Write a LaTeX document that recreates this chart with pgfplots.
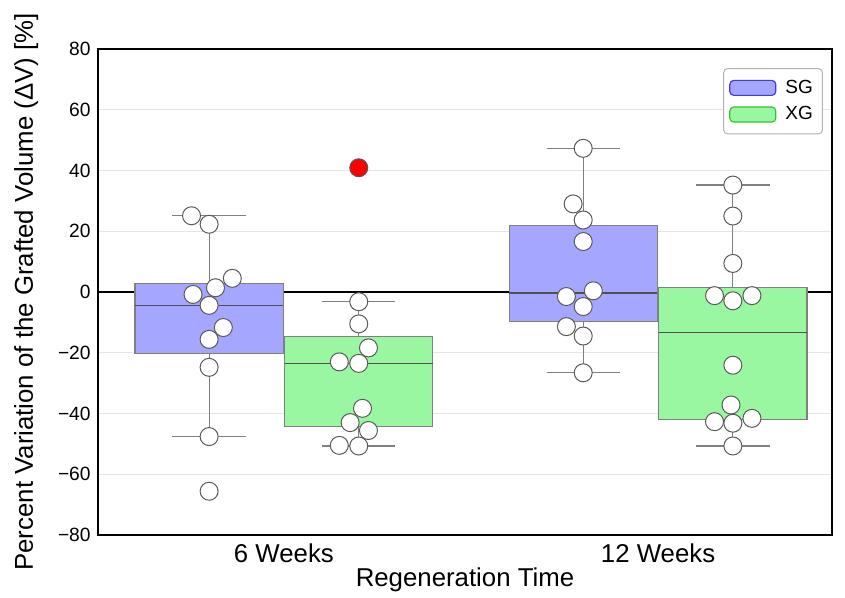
\documentclass[border=0pt]{standalone}
\usepackage{pgfplots}
\pgfplotsset{compat=1.18}
\usepackage{fontspec}
\setmainfont{Liberation Sans}
\definecolor{sgfill}{HTML}{A5A6FF}
\definecolor{xgfill}{HTML}{98F7A0}
\definecolor{sgedge}{HTML}{3C3CE6}
\definecolor{xgedge}{HTML}{33C433}
\definecolor{boxgray}{HTML}{808080}
\definecolor{medgray}{HTML}{505050}
\definecolor{ptedge}{HTML}{5A5A5A}
\begin{document}
\begin{tikzpicture}
\path[use as bounding box] (0pt,0pt) rectangle (422.5pt,299pt);
\begin{axis}[
  at={(49pt,31.5pt)}, anchor=south west, scale only axis,
  width=367pt, height=243pt,
  xmin=-0.497, xmax=1.465, ymin=-80, ymax=80,
  xtick={0,1}, xticklabels={6 Weeks,12 Weeks},
  ytick={-80,-60,-40,-20,0,20,40,60,80},
  yticklabels={−80,−60,−40,−20,0,20,40,60,80},
  tick style={draw=none},
  unbounded coords=jump,
  ymajorgrids, grid style={draw=black!10, line width=0.5pt},
  axis line style={line width=0.6pt},
  xticklabel style={font=\fontsize{12.9}{15}\selectfont, anchor=base, yshift=-13.7pt, inner sep=0pt},
  yticklabel style={font=\fontsize{9.6}{11}\selectfont, anchor=east, inner sep=0pt, xshift=-3.5pt},
  xlabel={Regeneration Time},
  ylabel={Percent Variation of the Grafted Volume (ΔV) [\%]},
  xlabel style={at={(axis description cs:0.5,-0.107)}, anchor=base, inner sep=0pt, font=\fontsize{12.9}{15}\selectfont},
  ylabel style={at={(axis description cs:-0.0886,0.5)}, anchor=base, inner sep=0pt, font=\fontsize{12.9}{15}\selectfont},
  legend style={at={(axis description cs:0.9877,0.9608)}, anchor=north east,
    draw=black!30, rounded corners=2pt, line width=0.5pt,
    font=\fontsize{9.5}{11}\selectfont, inner xsep=2.8pt, inner ysep=3.6pt, row sep=1.2pt,
    /tikz/every odd column/.append style={column sep=2.5pt}},
  legend cell align=left,
]
\addlegendimage{legend image code/.code={\draw[fill=sgfill, draw=sgedge, line width=0.6pt] (0pt,-3.75pt) rectangle (23pt,3.75pt);}}
\addlegendentry{SG}
\addlegendimage{legend image code/.code={\draw[fill=xgfill, draw=xgedge, line width=0.6pt] (0pt,-3.75pt) rectangle (23pt,3.75pt);}}
\addlegendentry{XG}

\addplot[forget plot, black, line width=0.75pt] coordinates {(-0.497,0) (1.465,0)};

% ---- whiskers (stem + caps) ----
\addplot[forget plot, boxgray, line width=0.6pt] coordinates {
(-0.2,-47.6) (-0.2,25.1) (-0.2,nan) (-0.298,25.1) (-0.102,25.1) (-0.2,nan) (-0.298,-47.6) (-0.102,-47.6)};
\addplot[forget plot, boxgray, line width=0.6pt] coordinates {
(0.2,-50.7) (0.2,-3.2) (0.2,nan) (0.102,-3.2) (0.298,-3.2) (0.2,nan) (0.102,-50.7) (0.298,-50.7)};
\addplot[forget plot, boxgray, line width=0.6pt] coordinates {
(0.8,-26.6) (0.8,47.3) (0.8,nan) (0.702,47.3) (0.898,47.3) (0.8,nan) (0.702,-26.6) (0.898,-26.6)};
\addplot[forget plot, boxgray, line width=0.6pt] coordinates {
(1.2,-50.7) (1.2,35.2) (1.2,nan) (1.102,35.2) (1.298,35.2) (1.2,nan) (1.102,-50.7) (1.298,-50.7)};

% ---- boxes (lower quartile to upper quartile) ----
\addplot[forget plot, fill=sgfill, draw=boxgray, line width=0.6pt] coordinates {(-0.398,-20.2) (-0.002,-20.2) (-0.002,2.9) (-0.398,2.9)} -- cycle;
\addplot[forget plot, fill=xgfill, draw=boxgray, line width=0.6pt] coordinates {(0.002,-44.3) (0.398,-44.3) (0.398,-14.7) (0.002,-14.7)} -- cycle;
\addplot[forget plot, fill=sgfill, draw=boxgray, line width=0.6pt] coordinates {(0.602,-9.7) (0.998,-9.7) (0.998,21.9) (0.602,21.9)} -- cycle;
\addplot[forget plot, fill=xgfill, draw=boxgray, line width=0.6pt] coordinates {(1.002,-41.9) (1.398,-41.9) (1.398,1.5) (1.002,1.5)} -- cycle;

% ---- medians ----
\addplot[forget plot, medgray, line width=0.75pt] coordinates {(-0.398,-4.4) (-0.002,-4.4)};
\addplot[forget plot, medgray, line width=0.75pt] coordinates {(0.002,-23.5) (0.398,-23.5)};
\addplot[forget plot, medgray, line width=0.75pt] coordinates {(0.602,-0.4) (0.998,-0.4)};
\addplot[forget plot, medgray, line width=0.75pt] coordinates {(1.002,-13.4) (1.398,-13.4)};

% ---- individual points ----
% 6 weeks SG
\addplot[forget plot, only marks, mark=*, mark size=4.5pt, mark options={fill=white, draw=ptedge, line width=0.5pt}] coordinates {
(-0.247,25.1) (-0.2,22.3) (-0.138,4.5) (-0.183,1.4) (-0.243,-0.8) (-0.2,-4.4)
(-0.162,-11.7) (-0.2,-15.6) (-0.2,-24.8) (-0.2,-47.6) (-0.2,-65.6)};
% 6 weeks XG
\addplot[forget plot, only marks, mark=*, mark size=4.5pt, mark options={fill=white, draw=ptedge, line width=0.5pt}] coordinates {
(0.2,-3.2) (0.2,-10.5) (0.226,-18.4) (0.148,-23.0) (0.2,-23.5) (0.21,-38.3)
(0.177,-43.0) (0.226,-45.6) (0.148,-50.5) (0.2,-50.7)};
\addplot[forget plot, only marks, mark=*, mark size=4.5pt, mark options={fill=red, draw=ptedge, line width=0.5pt}] coordinates {(0.2,40.9)};
% 12 weeks SG
\addplot[forget plot, only marks, mark=*, mark size=4.5pt, mark options={fill=white, draw=ptedge, line width=0.5pt}] coordinates {
(0.8,47.3) (0.773,29.0) (0.8,23.7) (0.8,16.6) (0.827,0.4) (0.755,-1.5)
(0.8,-4.8) (0.755,-11.4) (0.8,-14.5) (0.8,-26.6)};
% 12 weeks XG
\addplot[forget plot, only marks, mark=*, mark size=4.5pt, mark options={fill=white, draw=ptedge, line width=0.5pt}] coordinates {
(1.2,35.2) (1.2,25.0) (1.2,9.4) (1.151,-1.2) (1.251,-1.2) (1.2,-2.9)
(1.2,-24.1) (1.195,-37.2) (1.151,-42.7) (1.251,-41.6) (1.2,-43.2) (1.2,-50.7)};
\end{axis}
\end{tikzpicture}
\end{document}
